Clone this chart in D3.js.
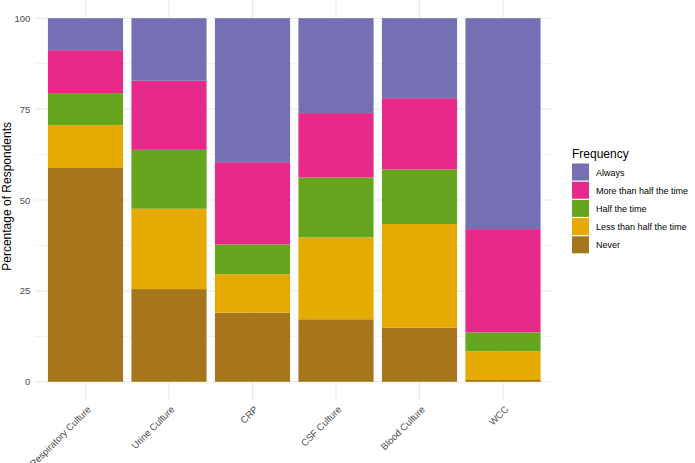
<!DOCTYPE html>
<html>
<head>
<meta charset="utf-8">
<script src="https://cdn.jsdelivr.net/npm/d3@7"></script>
<style>
  body { margin: 0; background: #fff; }
  svg { display: block; font-family: "Liberation Sans", Arial, sans-serif; }
</style>
</head>
<body>
<svg id="chart" width="695" height="463"></svg>
<script>
const tests = ["Respiratory Culture", "Urine Culture", "CRP", "CSF Culture", "Blood Culture", "WCC"];
// stacked bottom to top
const levels = ["Never", "Less than half the time", "Half the time", "More than half the time", "Always"];
const never   = [58.8, 25.5, 19.0, 17.2, 14.9, 0.5];
const lessHalf = [11.8, 22.1, 10.6, 22.5, 28.5, 7.9];
const half    = [8.8, 16.2, 8.2, 16.5, 15.0, 5.2];
const moreHalf = [11.8, 19.0, 22.6, 17.7, 19.6, 28.4];
const always  = [8.8, 17.2, 39.6, 26.1, 22.0, 58.0];
const yTicks = [0, 25, 50, 75, 100];
const legendOrder = ["Always", "More than half the time", "Half the time", "Less than half the time", "Never"];

const colour = d3.scaleOrdinal()
  .domain(levels)
  .range(["#A6761D", "#E6AB02", "#66A61E", "#E7298A", "#7570B3"]);

const rows = tests.map((t, i) => ({
  test: t,
  "Never": never[i],
  "Less than half the time": lessHalf[i],
  "Half the time": half[i],
  "More than half the time": moreHalf[i],
  "Always": always[i]
}));

const svg = d3.select("#chart");
const panel = {left: 35.4, right: 553.1, top: 0, bottom: 400};

const x = d3.scaleBand().domain(tests)
  .range([panel.left, panel.right])
  .paddingInner(0.1).paddingOuter(0.15);
const y = d3.scaleLinear().domain([-5, 105]).range([panel.bottom, panel.top]);

// grid
const grid = svg.append("g");
const minor = [12.5, 37.5, 62.5, 87.5];
grid.selectAll(".minor").data(minor).enter().append("line")
  .attr("x1", panel.left).attr("x2", panel.right)
  .attr("y1", d => y(d)).attr("y2", d => y(d))
  .attr("stroke", "#ebebeb").attr("stroke-width", 0.6);
grid.selectAll(".major").data(yTicks).enter().append("line")
  .attr("x1", panel.left).attr("x2", panel.right)
  .attr("y1", d => y(d)).attr("y2", d => y(d))
  .attr("stroke", "#ebebeb").attr("stroke-width", 1.1);
grid.selectAll(".vx").data(tests).enter().append("line")
  .attr("x1", d => x(d) + x.bandwidth() / 2).attr("x2", d => x(d) + x.bandwidth() / 2)
  .attr("y1", panel.top).attr("y2", panel.bottom)
  .attr("stroke", "#ebebeb").attr("stroke-width", 1.1);

// bars
const stacked = d3.stack().keys(levels)(rows);
svg.append("g").selectAll("g").data(stacked).enter().append("g")
  .attr("fill", d => colour(d.key))
  .selectAll("rect").data(d => d).enter().append("rect")
  .attr("x", d => x(d.data.test))
  .attr("width", x.bandwidth())
  .attr("y", d => y(d[1]))
  .attr("height", d => y(d[0]) - y(d[1]));

// y axis
const yAxis = svg.append("g")
  .attr("transform", `translate(${panel.left},0)`)
  .call(d3.axisLeft(y).tickValues(yTicks).tickSize(0).tickPadding(5));
yAxis.select(".domain").remove();
yAxis.selectAll("text").attr("font-size", 9.5).attr("fill", "#4d4d4d")
  .style("font-family", "Liberation Sans, Arial, sans-serif");

// x axis
const xAxis = svg.append("g")
  .attr("transform", `translate(0,${panel.bottom})`)
  .call(d3.axisBottom(x).tickSize(0).tickPadding(0));
xAxis.select(".domain").remove();
xAxis.selectAll("text")
  .attr("font-size", 9.5).attr("fill", "#4d4d4d")
  .style("font-family", "Liberation Sans, Arial, sans-serif")
  .attr("text-anchor", "end")
  .attr("dy", null).attr("y", 0)
  .attr("transform", "translate(6,10) rotate(-45)");

// y title
svg.append("text")
  .attr("transform", `translate(10.5,${y(51)}) rotate(-90)`)
  .attr("text-anchor", "middle")
  .attr("font-size", 12)
  .attr("fill", "#000")
  .text("Percentage of Respondents");

// legend
const legend = svg.append("g").attr("transform", "translate(572,0)");
legend.append("text").attr("x", 0).attr("y", 157.5)
  .attr("font-size", 12).attr("fill", "#000").text("Frequency");
const item = legend.selectAll(".item").data(legendOrder).enter().append("g")
  .attr("transform", (d, i) => `translate(0,${163.5 + i * 18.2})`);
item.append("rect").attr("width", 17).attr("height", 17)
  .attr("fill", d => colour(d));
item.append("text").attr("x", 24).attr("y", 12)
  .attr("font-size", 9).attr("fill", "#000").text(d => d);
</script>
</body>
</html>
